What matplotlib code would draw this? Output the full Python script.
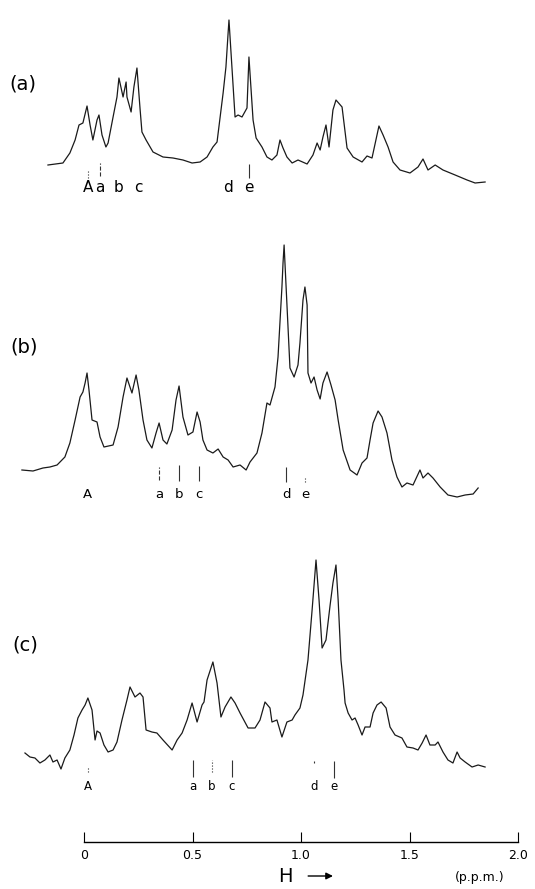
import matplotlib
matplotlib.use("Agg")
import matplotlib.pyplot as plt

# ---- data: shift in p.p.m., height in arbitrary units ----
ppm_a = [-0.166, -0.097, -0.065, -0.041, -0.023, -0.005, 0.014, 0.028, 0.041, 0.060,
         0.069, 0.083, 0.101, 0.111, 0.134, 0.152, 0.161, 0.180, 0.194, 0.198,
         0.217, 0.230, 0.244, 0.258, 0.267, 0.286, 0.318, 0.364, 0.410, 0.456,
         0.498, 0.535, 0.567, 0.594, 0.613, 0.641, 0.654, 0.664, 0.668, 0.696,
         0.710, 0.728, 0.751, 0.760, 0.779, 0.793, 0.820, 0.843, 0.866, 0.889,
         0.903, 0.917, 0.935, 0.959, 0.986, 1.028, 1.055, 1.074, 1.088, 1.101,
         1.115, 1.129, 1.147, 1.161, 1.189, 1.212, 1.240, 1.281, 1.304, 1.327,
         1.359, 1.378, 1.401, 1.424, 1.456, 1.502, 1.539, 1.562, 1.585, 1.618,
         1.654, 1.710, 1.765, 1.802, 1.848]
int_a = [35, 37, 47, 60, 75, 77, 94, 75, 60, 80,
         85, 65, 53, 57, 83, 103, 122, 103, 118, 103,
         88, 113, 132, 92, 68, 60, 48, 43, 42, 40,
         37, 38, 43, 53, 58, 107, 133, 167, 180, 83,
         85, 83, 92, 143, 80, 62, 53, 43, 40, 45,
         60, 52, 43, 37, 40, 36, 45, 57, 50, 63,
         75, 53, 90, 100, 93, 52, 43, 38, 44, 42,
         74, 65, 53, 38, 30, 27, 33, 41, 30, 35,
         30, 25, 20, 17, 18]

ppm_b = [-0.286, -0.235, -0.189, -0.157, -0.124, -0.088, -0.065, -0.041, -0.018, -0.005,
         0.005, 0.014, 0.023, 0.037, 0.060, 0.074, 0.092, 0.134, 0.157, 0.180,
         0.198, 0.221, 0.240, 0.253, 0.272, 0.290, 0.313, 0.332, 0.346, 0.364,
         0.382, 0.406, 0.424, 0.438, 0.456, 0.479, 0.502, 0.521, 0.535, 0.548,
         0.567, 0.594, 0.618, 0.641, 0.664, 0.687, 0.719, 0.747, 0.765, 0.797,
         0.820, 0.843, 0.857, 0.880, 0.894, 0.912, 0.917, 0.922, 0.949, 0.968,
         0.986, 0.995, 1.009, 1.018, 1.028, 1.032, 1.046, 1.060, 1.074, 1.088,
         1.101, 1.120, 1.138, 1.157, 1.171, 1.194, 1.226, 1.258, 1.281, 1.304,
         1.318, 1.332, 1.355, 1.373, 1.396, 1.419, 1.442, 1.465, 1.488, 1.516,
         1.548, 1.562, 1.585, 1.608, 1.641, 1.677, 1.719, 1.756, 1.793, 1.816]
int_b = [40, 39, 42, 43, 45, 53, 67, 90, 113, 118,
         127, 137, 120, 90, 88, 73, 63, 65, 83, 113,
         132, 117, 135, 120, 90, 70, 62, 77, 87, 70,
         66, 80, 110, 124, 93, 75, 78, 98, 88, 70,
         60, 57, 61, 53, 50, 43, 45, 40, 48, 57,
         77, 107, 105, 123, 153, 223, 247, 265, 142, 133,
         145, 167, 210, 223, 205, 137, 127, 133, 120, 111,
         127, 138, 125, 110, 90, 60, 40, 35, 47, 52,
         70, 87, 99, 93, 77, 50, 33, 23, 27, 25,
         40, 32, 37, 32, 23, 15, 13, 15, 16, 22]

ppm_c = [-0.272, -0.249, -0.226, -0.203, -0.180, -0.157, -0.143, -0.124, -0.106, -0.088,
         -0.065, -0.046, -0.028, -0.009, 0.005, 0.018, 0.037, 0.051, 0.060, 0.074,
         0.092, 0.111, 0.134, 0.152, 0.175, 0.198, 0.212, 0.235, 0.258, 0.272,
         0.286, 0.313, 0.336, 0.364, 0.406, 0.429, 0.452, 0.475, 0.498, 0.521,
         0.544, 0.553, 0.567, 0.594, 0.613, 0.631, 0.650, 0.677, 0.696, 0.719,
         0.756, 0.788, 0.811, 0.834, 0.857, 0.866, 0.889, 0.912, 0.935, 0.959,
         0.972, 0.995, 1.009, 1.032, 1.051, 1.069, 1.083, 1.097, 1.115, 1.134,
         1.147, 1.161, 1.171, 1.184, 1.198, 1.203, 1.217, 1.235, 1.249, 1.263,
         1.281, 1.295, 1.318, 1.332, 1.350, 1.369, 1.392, 1.410, 1.433, 1.465,
         1.488, 1.516, 1.539, 1.558, 1.576, 1.594, 1.618, 1.631, 1.654, 1.677,
         1.700, 1.719, 1.733, 1.756, 1.788, 1.816, 1.848]
int_c = [37, 33, 32, 27, 30, 35, 28, 30, 21, 32,
         40, 55, 72, 80, 85, 92, 80, 50, 59, 57,
         45, 38, 40, 48, 70, 90, 103, 93, 97, 93,
         60, 58, 57, 50, 40, 50, 57, 70, 87, 68,
         85, 88, 110, 128, 107, 73, 83, 93, 87, 77,
         62, 62, 70, 88, 82, 68, 70, 53, 68, 70,
         75, 82, 95, 130, 180, 230, 190, 142, 150, 185,
         207, 225, 190, 130, 100, 87, 77, 70, 72, 65,
         55, 63, 63, 77, 85, 88, 82, 63, 55, 52,
         43, 42, 40, 47, 55, 45, 45, 48, 38, 30,
         27, 38, 32, 28, 23, 25, 23]

peak_names = ['A', 'a', 'b', 'c', 'd', 'e']
marks_a = [0.018, 0.074, 0.161, 0.249, 0.664, 0.760]
marks_b = [0.018, 0.346, 0.438, 0.530, 0.931, 1.018]
marks_c = [0.018, 0.502, 0.590, 0.682, 1.060, 1.152]

scale_ticks = [0, 0.5, 1.0, 1.5, 2.0]
scale_labels = ['0', '0.5', '1.0', '1.5', '2.0']

# ---- layout ----
XLIM = (-0.387, 2.078)
H = 889.0

fig = plt.figure(figsize=(5.35, 8.89), dpi=100)
fig.patch.set_facecolor('white')


def panel(top, bottom, ylim):
    ax = fig.add_axes([0, (H - bottom) / H, 1, (bottom - top) / H])
    ax.set_xlim(*XLIM)
    ax.set_ylim(*ylim)
    ax.axis('off')
    return ax


# (ticks: index of peak, top, bottom, linestyle)
panels = [
    dict(ax=panel(0, 200, (0, 200)), x=ppm_a, y=int_a, marks=marks_a, tag='(a)',
         tag_pos=(-0.346, 116), lab_y=12, fs=11,
         ticks=[(0, 30, 22, ':'), (1, 37, 24, '--'), (5, 36, 22, '-')]),
    dict(ax=panel(220, 510, (0, 290)), x=ppm_b, y=int_b, marks=marks_b, tag='(b)',
         tag_pos=(-0.341, 163), lab_y=15, fs=9.5,
         ticks=[(1, 43, 30, '--'), (2, 45, 29, '-'), (3, 44, 29, '-'),
                (4, 43, 28, '-'), (5, 32, 28, ':')]),
    dict(ax=panel(540, 800, (-10, 250)), x=ppm_c, y=int_c, marks=marks_c, tag='(c)',
         tag_pos=(-0.332, 145), lab_y=3, fs=8.5,
         ticks=[(0, 23, 18, ':'), (1, 30, 13, '-'), (2, 30, 18, ':'),
                (3, 30, 13, '-'), (4, 29, 27, '-'), (5, 29, 12, '-')]),
]

for p in panels:
    ax = p['ax']
    ax.plot(p['x'], p['y'], color='#1a1a1a', lw=0.9, solid_joinstyle='round')
    ax.text(p['tag_pos'][0], p['tag_pos'][1], p['tag'], ha='left', va='center',
            fontsize=14)
    for name, m in zip(peak_names, p['marks']):
        ax.text(m, p['lab_y'], name, ha='center', va='center', fontsize=p['fs'])
    for i, top, bot, ls in p['ticks']:
        ax.vlines(p['marks'][i], bot, top, colors='#333333', lw=0.8, linestyles=ls)

# ---- p.p.m. scale at the bottom ----
ax_s = fig.add_axes([0, 0, 1, 89 / H])
ax_s.set_xlim(*XLIM)
ax_s.set_ylim(0, 89)
ax_s.set_facecolor('none')
for s in ['top', 'left', 'right']:
    ax_s.spines[s].set_visible(False)
ax_s.spines['bottom'].set_position(('data', 47))
ax_s.spines['bottom'].set_bounds(0, 2.0)
ax_s.spines['bottom'].set_linewidth(1.0)
ax_s.set_xticks(scale_ticks)
ax_s.set_xticklabels(scale_labels)
ax_s.set_yticks([])
ax_s.tick_params(axis='x', direction='in', length=7.2, width=0.8, pad=5, labelsize=9)

ax_s.text(0.926, 12, 'H', ha='center', va='center', fontsize=14)
ax_s.annotate('', xy=(1.16, 13), xytext=(1.02, 13),
              arrowprops=dict(arrowstyle='-|>', color='black', lw=1.0, mutation_scale=10))
ax_s.text(1.825, 11, '(p.p.m.)', ha='center', va='center', fontsize=9)

fig.savefig('out.png', dpi=100)
